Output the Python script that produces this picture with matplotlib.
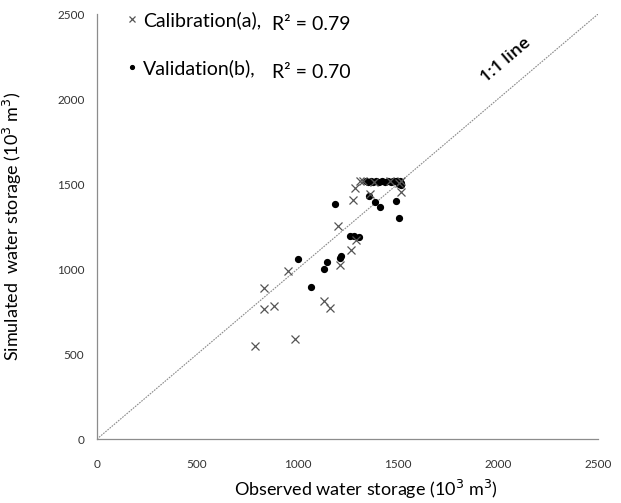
import numpy as np
import matplotlib.pyplot as plt

plt.rcParams['font.family'] = ['Lato', 'DejaVu Sans']

# calibration period (a): observed vs simulated storage, 10^3 m^3
cal_obs = [790, 990, 832, 832, 885, 952, 1135, 1162, 1203, 1215, 1268, 1293,
           1278, 1290, 1315, 1327, 1362, 1515, 1515, 1505, 1380, 1460]
cal_sim = [545, 590, 886, 765, 782, 990, 814, 773, 1253, 1022, 1112, 1171,
           1406, 1475, 1519, 1517, 1443, 1455, 1517, 1505, 1515, 1518]

# validation period (b)
val_obs = [1002, 1068, 1135, 1148, 1215, 1218, 1187, 1265, 1285, 1307, 1360,
           1385, 1410, 1493, 1505,
           1345, 1355, 1365, 1375, 1390, 1405, 1420, 1435, 1450, 1465, 1478,
           1490, 1500, 1508, 1512, 1515, 1518]
val_sim = [1057, 892, 998, 1043, 1063, 1076, 1382, 1196, 1194, 1190, 1431,
           1392, 1367, 1402, 1298,
           1518, 1515, 1520, 1512, 1518, 1515, 1520, 1514, 1518, 1512, 1516,
           1520, 1510, 1500, 1518, 1505, 1495]

r2_cal = 0.79
r2_val = 0.70

fig = plt.figure(figsize=(6.21, 5.03), dpi=100)
ax = fig.add_axes([0.156, 0.127, 0.807, 0.845])

# 1:1 reference line
ax.plot([0, 2500], [0, 2500], color='#8a8a8a', lw=0.8, ls=(0, (1.5, 1)), zorder=1)
ax.text(2040, 2225, '1:1 line', rotation=40.5, fontsize=12.5, color='black',
        fontweight='semibold', ha='center', va='center',
        family=['Open Sans', 'DejaVu Sans'])

ax.plot(cal_obs, cal_sim, ls='none', marker='x', ms=6, mew=0.9, color='#555555',
        label='Calibration(a),', zorder=3)
ax.plot(val_obs, val_sim, ls='none', marker='o', ms=4.2, color='black',
        label='Validation(b),', zorder=2)

leg = ax.legend(loc='upper left', bbox_to_anchor=(0.025, 1.048), frameon=False,
                fontsize=14, handlelength=0.5, handletextpad=0.35,
                labelspacing=1.55, markerscale=0.65)

# R² values, aligned in a column next to the legend entries
ax.text(0.349, 0.975, f'R\u00b2 = {r2_cal:.2f}', transform=ax.transAxes,
        fontsize=14, ha='left', va='center')
ax.text(0.349, 0.862, f'R\u00b2 = {r2_val:.2f}', transform=ax.transAxes,
        fontsize=14, ha='left', va='center')

ax.set_xlim(0, 2500)
ax.set_ylim(0, 2500)
ax.set_xticks(np.arange(0, 2501, 500))
ax.set_yticks(np.arange(0, 2501, 500))
ax.tick_params(length=0, labelsize=8.5, labelcolor='#333333')
ax.tick_params(axis='x', pad=14)
ax.tick_params(axis='y', pad=9)
for s in ['top', 'right']:
    ax.spines[s].set_visible(False)
for s in ['left', 'bottom']:
    ax.spines[s].set_color('#8c8c8c')
    ax.spines[s].set_linewidth(0.9)

ax.set_xlabel('Observed water storage (10$^{3}$ m$^{3}$)', fontsize=13)
ax.set_ylabel('Simulated  water storage (10$^{3}$ m$^{3}$)', fontsize=13)
ax.xaxis.set_label_coords(0.537, -0.092)
ax.yaxis.set_label_coords(-0.145, 0.5)

fig.savefig('out.png', dpi=100)
